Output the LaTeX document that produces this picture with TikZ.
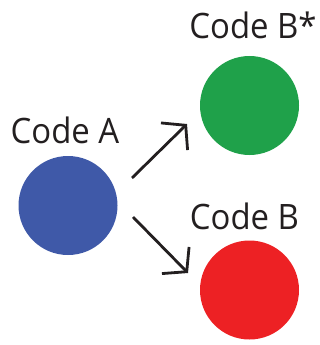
\documentclass[tikz,border=0pt]{standalone}
\usepackage{fontspec}
\setmainfont[FakeStretch=0.94]{Open Sans}
\usetikzlibrary{arrows.meta}
\definecolor{cblue}{HTML}{3F59A8}
\definecolor{cgreen}{HTML}{1FA14A}
\definecolor{cred}{HTML}{ED2124}
\definecolor{ink}{HTML}{231F20}
\tikzset{
  dot/.style={circle, minimum size=99pt, inner sep=0pt, draw=none},
  lbl/.style={anchor=base, text=ink, font=\fontsize{35}{40}\selectfont, inner sep=0pt},
  arr/.style={draw=ink, line width=2.8pt, -{Straight Barb[length=16pt,width=38pt]}}
}
\begin{document}
\begin{tikzpicture}[x=1pt,y=-1pt]
\useasboundingbox (0,0) rectangle (320,345);
\node[dot, fill=cblue] (a) at (68,205.5) {};
\node[dot, fill=cgreen] (bs) at (249.5,105.5) {};
\node[dot, fill=cred] (b) at (249.5,290) {};
\node[lbl] (la) at (65,143) {Code A};
\node[lbl] (lbs) at (253,38) {Code B*};
\node[lbl] (lb) at (244.5,229) {Code B};
\coordinate (s1) at (132,178);
\coordinate (e1) at (187,124);
\coordinate (s2) at (133,217);
\coordinate (e2) at (188,273);
\draw[arr] (s1) -- (e1);
\draw[arr] (s2) -- (e2);
\end{tikzpicture}
\end{document}
